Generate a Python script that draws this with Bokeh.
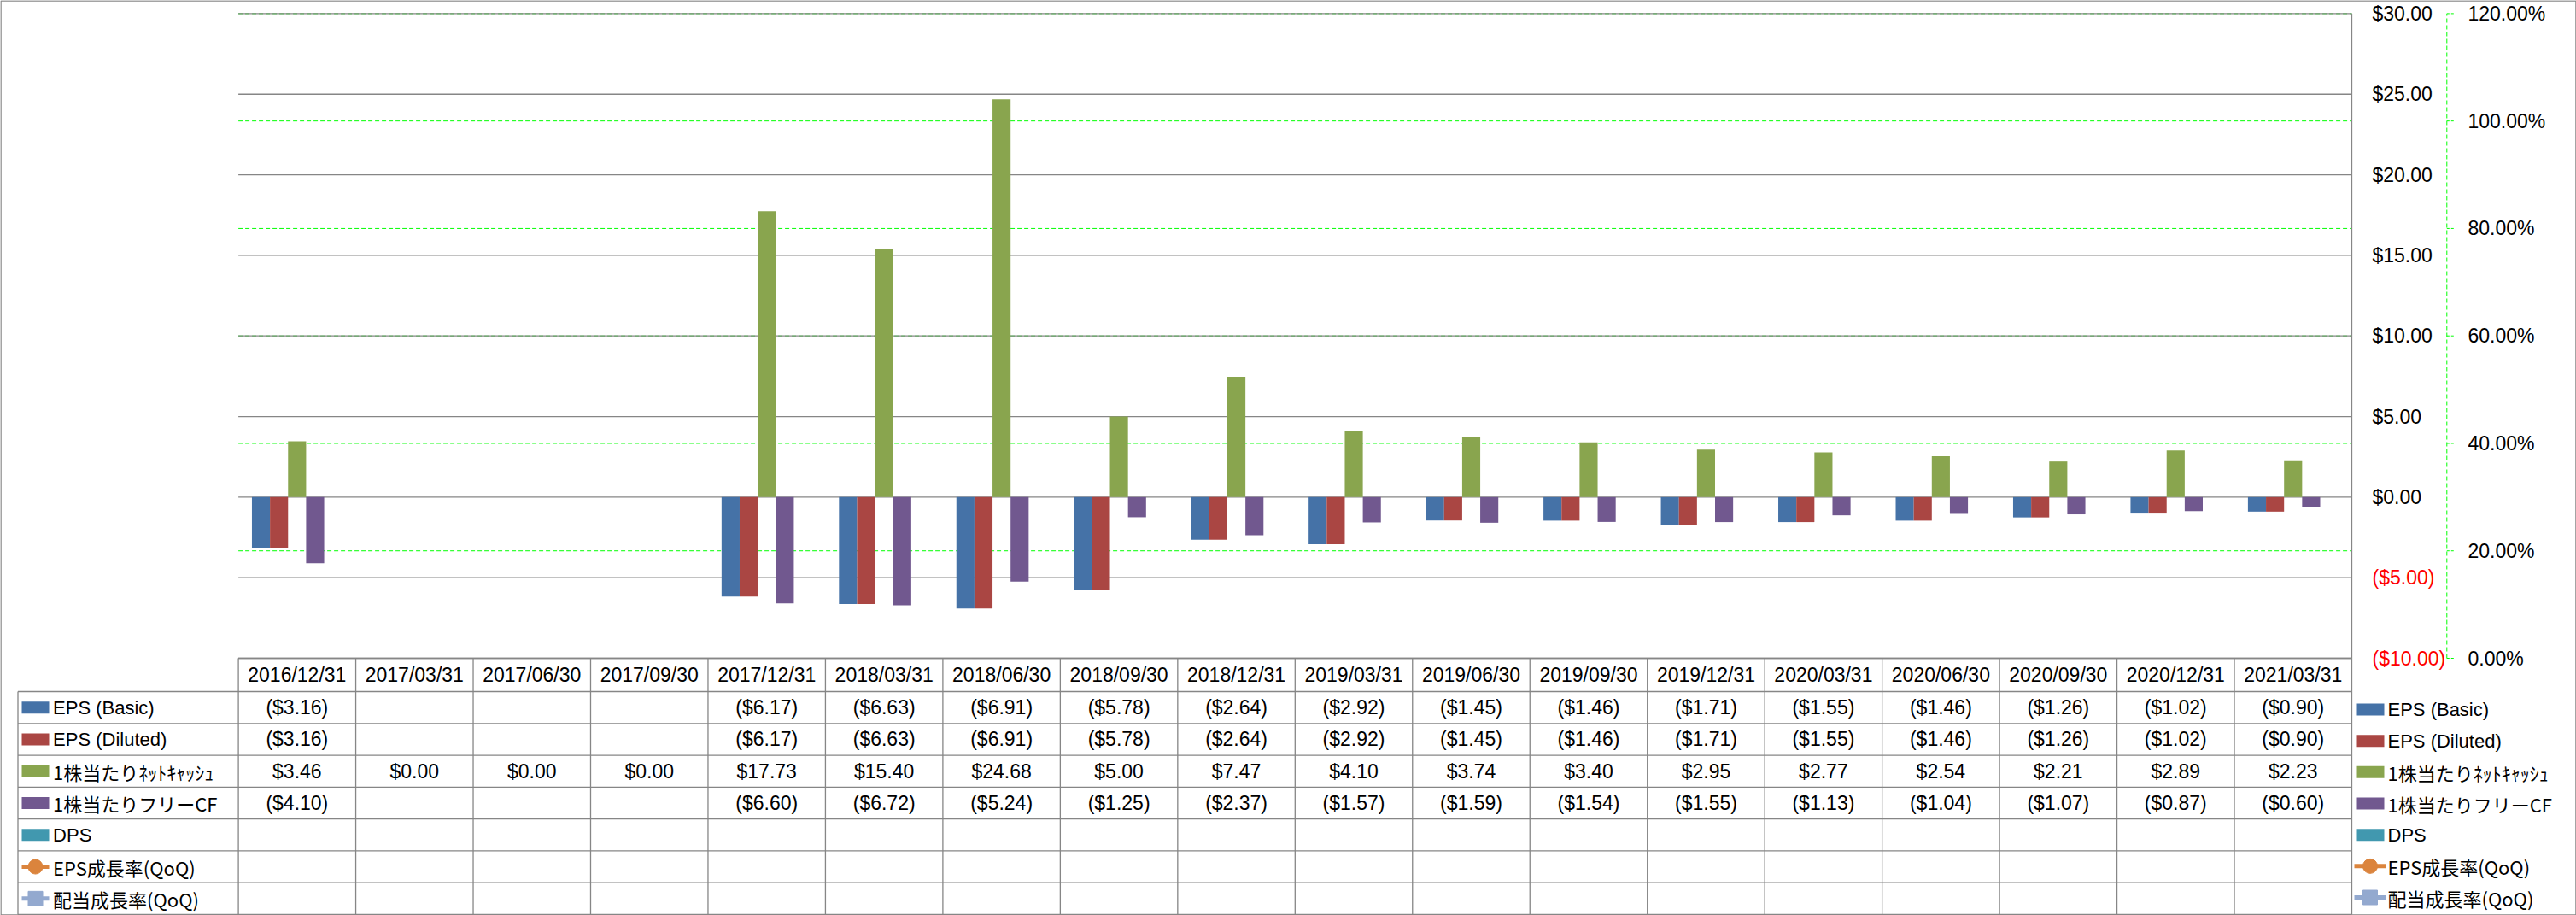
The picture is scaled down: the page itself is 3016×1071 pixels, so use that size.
import numpy as np
from bokeh.plotting import figure
from bokeh.models import Range1d
from bokeh.core.properties import value
from bokeh.embed import file_html
from bokeh.resources import INLINE

nan = float("nan")

# ---------------- data ----------------
dates = ["2016/12/31", "2017/03/31", "2017/06/30", "2017/09/30", "2017/12/31", "2018/03/31",
         "2018/06/30", "2018/09/30", "2018/12/31", "2019/03/31", "2019/06/30", "2019/09/30",
         "2019/12/31", "2020/03/31", "2020/06/30", "2020/09/30", "2020/12/31", "2021/03/31"]
eps_basic = [-3.16, nan, nan, nan, -6.17, -6.63, -6.91, -5.78, -2.64, -2.92, -1.45, -1.46,
             -1.71, -1.55, -1.46, -1.26, -1.02, -0.90]
eps_diluted = [-3.16, nan, nan, nan, -6.17, -6.63, -6.91, -5.78, -2.64, -2.92, -1.45, -1.46,
               -1.71, -1.55, -1.46, -1.26, -1.02, -0.90]
net_cash = [3.46, 0.00, 0.00, 0.00, 17.73, 15.40, 24.68, 5.00, 7.47, 4.10, 3.74, 3.40,
            2.95, 2.77, 2.54, 2.21, 2.89, 2.23]
fcf = [-4.10, nan, nan, nan, -6.60, -6.72, -5.24, -1.25, -2.37, -1.57, -1.59, -1.54,
       -1.55, -1.13, -1.04, -1.07, -0.87, -0.60]
dps = [nan, nan, nan, nan, nan, nan, nan, nan, nan, nan, nan, nan, nan, nan, nan, nan, nan, nan]
eps_growth = [nan, nan, nan, nan, nan, nan, nan, nan, nan, nan, nan, nan, nan, nan, nan, nan, nan, nan]
div_growth = [nan, nan, nan, nan, nan, nan, nan, nan, nan, nan, nan, nan, nan, nan, nan, nan, nan, nan]

series_names = ["EPS (Basic)", "EPS (Diluted)", "1株当たりﾈｯﾄｷｬｯｼｭ", "1株当たりフリーCF",
                "DPS", "EPS成長率(QoQ)", "配当成長率(QoQ)"]
series_values = [eps_basic, eps_diluted, net_cash, fcf, dps, eps_growth, div_growth]
series_kind = ["bar", "bar", "bar", "bar", "bar", "circle", "square"]
colors = ["#4572A7", "#AA4643", "#89A54E", "#71588F", "#4198AF", "#DB843D", "#93A9CF"]

usd_ticks = [30, 25, 20, 15, 10, 5, 0, -5, -10]
pct_ticks = [120, 100, 80, 60, 40, 20, 0]

# ---------------- layout ----------------
W, H = 3016, 1071
PL, PR, PT, PB = 278.6, 2753.0, 15.4, 770.0
n = len(dates)
unit = (PR - PL) / n
usd_lo, usd_hi = -10.0, 30.0
pct_lo, pct_hi = 0.0, 120.0
ppu = (PB - PT) / (usd_hi - usd_lo)
ppp = (PB - PT) / (pct_hi - pct_lo)

GRAY = "#868686"
GREEN = "#00FF00"
LAT = "Liberation Sans"
CJK = "Noto Sans CJK JP"
FS = "22px"     # names
FSN = "23px"    # numbers / dates


def font_for(s):
    return CJK if any(ord(c) > 127 for c in s) else LAT


def fmt_usd(v):
    if v != v:
        return ""
    return "(${:.2f})".format(abs(v)) if v < 0 else "${:.2f}".format(v)


p = figure(width=W, height=H, output_backend="svg", toolbar_location=None,
           x_range=Range1d(-PL / unit, (W - PL) / unit),
           y_range=Range1d(usd_lo - (H - PB) / ppu, usd_hi + PT / ppu),
           x_axis_location=None, y_axis_location=None,
           min_border=0, min_border_left=0, min_border_right=0,
           min_border_top=0, min_border_bottom=0)
p.extra_x_ranges = {"px": Range1d(0, W)}
p.extra_y_ranges = {"px": Range1d(H, 0),
                    "pct": Range1d(pct_lo - (H - PB) / ppp, pct_hi + PT / ppp)}
p.grid.visible = False
p.outline_line_color = None
p.background_fill_color = "white"
p.border_fill_color = "white"

# outer border
p.quad(left=0.5, right=W - 0.5, top=0.5, bottom=H - 0.5, fill_color=None,
       line_color=GRAY, line_width=1.5, x_range_name="px", y_range_name="px")

# secondary (percent) gridlines - green dashed
p.segment(x0=[0] * len(pct_ticks), x1=[n] * len(pct_ticks), y0=pct_ticks, y1=pct_ticks,
          line_color=GREEN, line_width=1, line_dash="5 3", y_range_name="pct")
# primary gridlines - gray
p.segment(x0=[0] * len(usd_ticks), x1=[n] * len(usd_ticks), y0=usd_ticks, y1=usd_ticks,
          line_color=GRAY, line_width=1.3)
# plot area right border
p.segment(x0=[n], x1=[n], y0=[usd_lo], y1=[usd_hi], line_color=GRAY, line_width=1.3)

# bars
nbar = 5
bw = 1.0 / (nbar + 1.5)
xc = np.arange(n) + 0.5
for k in range(nbar):
    off = (k - (nbar - 1) / 2) * bw
    p.vbar(x=xc + off, top=series_values[k], bottom=0, width=bw,
           fill_color=colors[k], line_color=None)

# primary axis labels (right)
usd_lab = [fmt_usd(float(t)) if t != 0 else "$0.00" for t in usd_ticks]
usd_col = ["#FF0000" if t < 0 else "black" for t in usd_ticks]
p.text(x=[2777] * len(usd_ticks), y=usd_ticks, text=usd_lab, text_color=usd_col,
       text_font=value(LAT), text_font_size=FSN, text_align="left", text_baseline="middle",
       x_range_name="px")

# secondary axis (percent)
AX2 = 2864.3
p.segment(x0=[AX2], x1=[AX2], y0=[pct_lo], y1=[pct_hi], line_color=GREEN, line_width=1,
          line_dash="5 3", x_range_name="px", y_range_name="pct")
p.segment(x0=[AX2] * len(pct_ticks), x1=[AX2 + 9] * len(pct_ticks), y0=pct_ticks, y1=pct_ticks,
          line_color=GREEN, line_width=1, line_dash="3 2", x_range_name="px", y_range_name="pct")
p.text(x=[2889] * len(pct_ticks), y=pct_ticks, text=["{:.2f}%".format(t) for t in pct_ticks],
       text_color="black", text_font=value(LAT), text_font_size=FSN, text_align="left",
       text_baseline="middle", x_range_name="px", y_range_name="pct")

# ---------------- data table ----------------
HDR_T, ROW_T, ROW_B = 770.0, 809.0, 1070.0
nrow = len(series_names)
rh = (ROW_B - ROW_T) / nrow
row_edges = [ROW_T + i * rh for i in range(nrow + 1)]
row_centers = [ROW_T + (i + 0.5) * rh for i in range(nrow)]
TL = 20.5

# horizontal lines
p.segment(x0=[TL] * len(row_edges), x1=[PR] * len(row_edges), y0=row_edges, y1=row_edges,
          line_color=GRAY, line_width=1.3, x_range_name="px", y_range_name="px")
p.segment(x0=[PL], x1=[PR], y0=[HDR_T], y1=[HDR_T], line_color=GRAY, line_width=1.3,
          x_range_name="px", y_range_name="px")
# vertical lines
p.segment(x0=[TL], x1=[TL], y0=[ROW_T], y1=[ROW_B], line_color=GRAY, line_width=1.3,
          x_range_name="px", y_range_name="px")
cols = list(range(n + 1))
p.segment(x0=cols, x1=cols, y0=[HDR_T] * len(cols), y1=[ROW_B] * len(cols),
          line_color=GRAY, line_width=1.3, y_range_name="px")

# header dates
p.text(x=xc, y=[(HDR_T + ROW_T) / 2] * n, text=dates, text_color="black",
       text_font=value(LAT), text_font_size=FSN, text_align="center", text_baseline="middle",
       y_range_name="px")

# cell values
for i, vals in enumerate(series_values):
    labs = [fmt_usd(v) for v in vals]
    p.text(x=xc, y=[row_centers[i]] * n, text=labs, text_color="black",
           text_font=value(LAT), text_font_size=FSN, text_align="center",
           text_baseline="middle", y_range_name="px")


def legend_entry(kx0, kx1, tx, yc, name, kind, color):
    if kind == "bar":
        p.quad(left=[kx0], right=[kx1], top=[yc - 7], bottom=[yc + 7], fill_color=color,
               line_color=None, x_range_name="px", y_range_name="px")
    else:
        p.segment(x0=[kx0], x1=[kx1], y0=[yc], y1=[yc], line_color=color, line_width=5,
                  x_range_name="px", y_range_name="px")
        p.scatter(x=[(kx0 + kx1) / 2], y=[yc], marker=kind, size=17, fill_color=color,
                  line_color=color, x_range_name="px", y_range_name="px")
    p.text(x=[tx], y=[yc], text=[name], text_color="black", text_font=value(font_for(name)),
           text_font_size=FS, text_align="left", text_baseline="middle",
           x_range_name="px", y_range_name="px")


# row headers of the table (with keys)
for i in range(nrow):
    legend_entry(25, 57, 61.6, row_centers[i], series_names[i], series_kind[i], colors[i])

# right legend
LEG_T, LEG_S = 830.0, 36.67
for i in range(nrow):
    kx0, kx1 = (2759, 2791) if series_kind[i] == "bar" else (2756, 2793)
    legend_entry(kx0, kx1, 2795, LEG_T + i * LEG_S, series_names[i], series_kind[i], colors[i])

open("out.html", "w").write(file_html(p, INLINE))
